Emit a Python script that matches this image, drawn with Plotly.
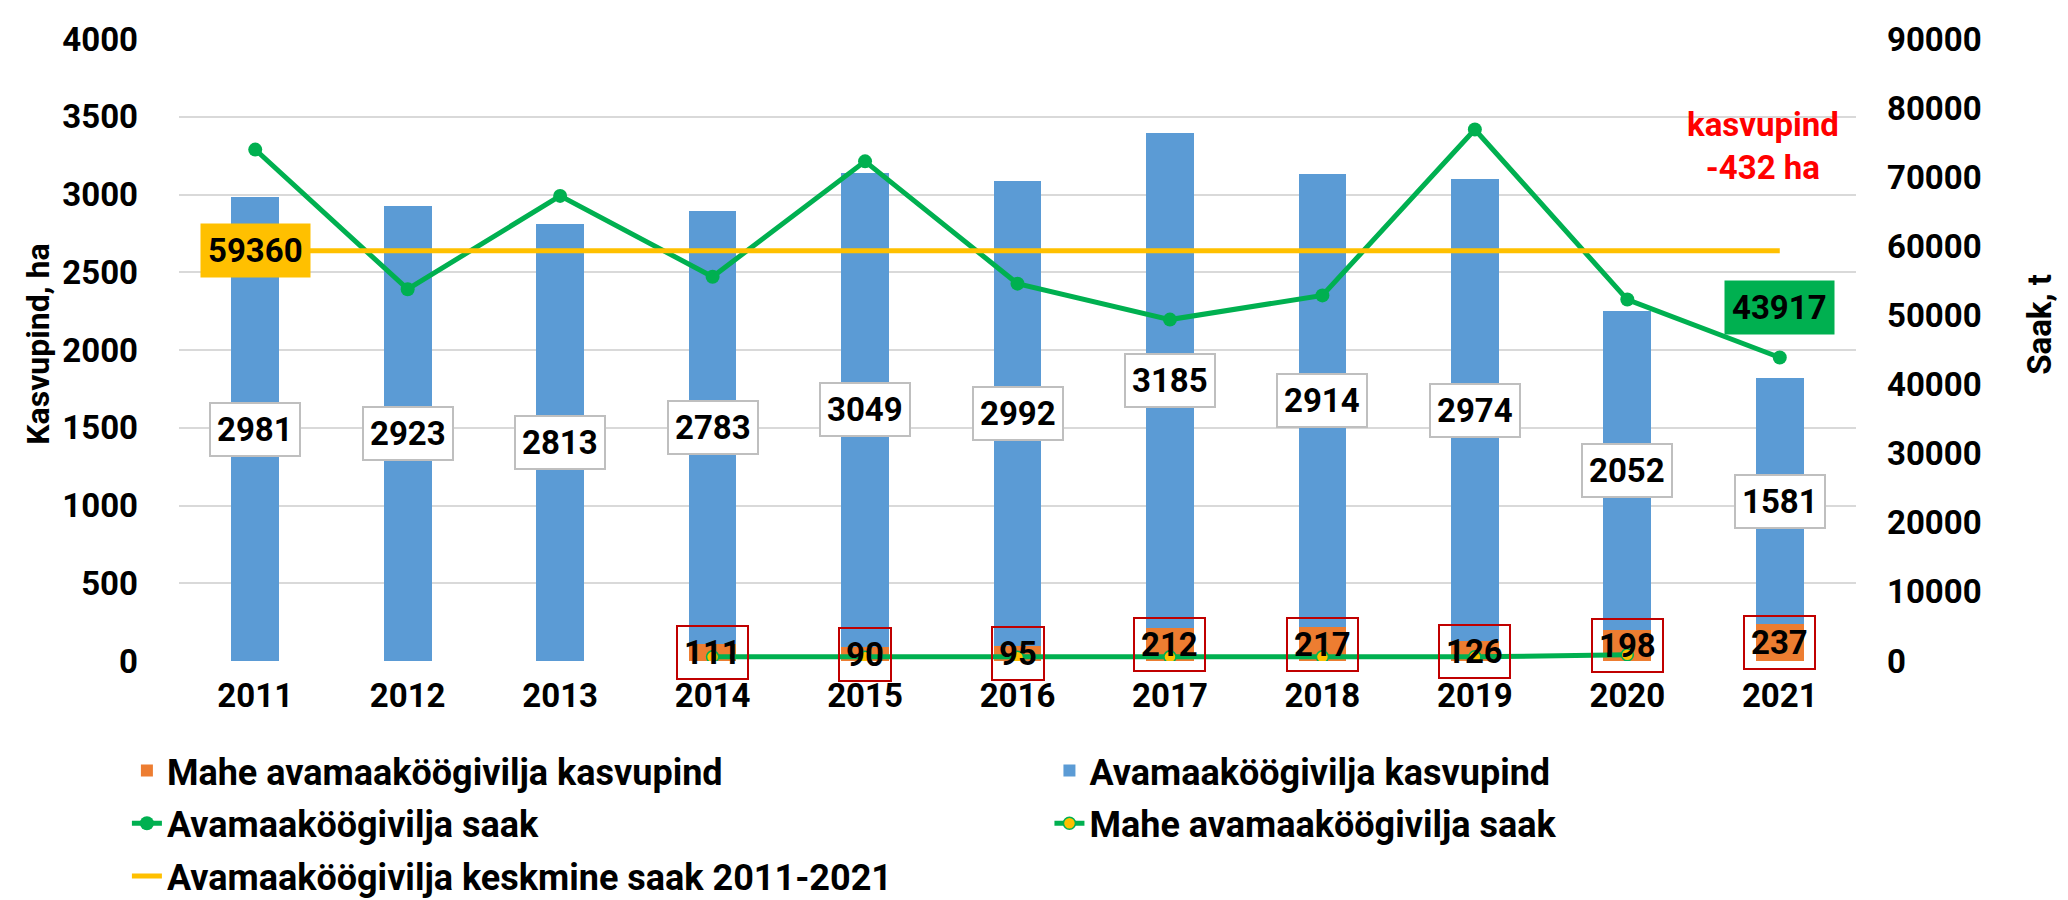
import plotly.graph_objects as go

years = ["2011", "2012", "2013", "2014", "2015", "2016", "2017", "2018", "2019", "2020", "2021"]
mahe_kasvupind = [0, 0, 0, 111, 90, 95, 212, 217, 126, 198, 237]
avamaa_kasvupind = [2981, 2923, 2813, 2783, 3049, 2992, 3185, 2914, 2974, 2052, 1581]
avamaa_saak = [74000, 53800, 67300, 55600, 72300, 54600, 49400, 52900, 76900, 52300, 43917]
mahe_years = ["2014", "2015", "2016", "2017", "2018", "2019", "2020"]
mahe_saak = [600, 550, 550, 600, 600, 600, 900]
keskmine_saak = 59360

FONT = "Roboto, sans-serif"
BLUE = "#5B9BD5"
ORANGE = "#ED7D31"
GREEN = "#00B050"
YELLOW = "#FFC000"
TS = 33  # text size


def f(size=TS, color="black"):
    return dict(family=FONT, size=size, color=color, weight="bold")


fig = go.Figure()
fig.add_trace(go.Bar(x=years, y=mahe_kasvupind, name="Mahe avamaaköögivilja kasvupind",
                     marker=dict(color=ORANGE, line=dict(width=0)),
                     legend="legend", legendgroup="a"))
fig.add_trace(go.Bar(x=years, y=avamaa_kasvupind, name="Avamaaköögivilja kasvupind",
                     marker=dict(color=BLUE, line=dict(width=0)),
                     legend="legend2", legendgroup="b"))
fig.add_trace(go.Scatter(x=years, y=avamaa_saak, name="Avamaaköögivilja saak", yaxis="y2",
                         mode="lines+markers", line=dict(color=GREEN, width=5),
                         marker=dict(size=14, color=GREEN),
                         legend="legend", legendgroup="c"))
fig.add_trace(go.Scatter(x=mahe_years, y=mahe_saak, name="Mahe avamaaköögivilja saak", yaxis="y2",
                         mode="lines+markers", line=dict(color=GREEN, width=5),
                         marker=dict(size=12, color=YELLOW, line=dict(color=GREEN, width=1.5)),
                         legend="legend2", legendgroup="d"))
fig.add_trace(go.Scatter(x=years, y=[keskmine_saak] * len(years),
                         name="Avamaaköögivilja keskmine saak 2011-2021", yaxis="y2",
                         mode="lines", line=dict(color=YELLOW, width=5),
                         legend="legend", legendgroup="e"))

ann = []
for i, (m, b) in enumerate(zip(mahe_kasvupind, avamaa_kasvupind)):
    ann.append(dict(x=i, y=m + b / 2, xref="x", yref="y", text=str(b), showarrow=False,
                    bgcolor="white", bordercolor="#BFBFBF", borderwidth=2, borderpad=6,
                    font=f()))
for i, m in enumerate(mahe_kasvupind):
    if m > 0:
        ann.append(dict(x=i, y=m / 2, xref="x", yref="y", text=str(m), showarrow=False,
                        bgcolor="rgba(0,0,0,0)", bordercolor="#C00000", borderwidth=2, borderpad=6,
                        font=f()))
ann.append(dict(x=0, y=keskmine_saak, xref="x", yref="y2", text=str(keskmine_saak),
                showarrow=False, bgcolor=YELLOW, borderpad=7, font=f()))
last = len(years) - 1
ann.append(dict(x=last, y=avamaa_saak[-1], xref="x", yref="y2", yshift=50,
                text=str(avamaa_saak[-1]), showarrow=False, bgcolor=GREEN, borderpad=7,
                font=f()))
diff = (mahe_kasvupind[-1] + avamaa_kasvupind[-1]) - (mahe_kasvupind[-2] + avamaa_kasvupind[-2])
ann.append(dict(x=last, y=3310, xref="x", yref="y", xshift=-17,
                text=f"kasvupind<br>{diff} ha", showarrow=False, align="center",
                font=f(color="#FF0000")))
# axis titles
ann.append(dict(x=-0.0841, y=0.51, xref="paper", yref="paper", text="Kasvupind, ha",
                xanchor="center", yanchor="middle",
                textangle=-90, showarrow=False, font=f(32)))
ann.append(dict(x=1.1097, y=0.542, xref="paper", yref="paper", text="Saak, t",
                xanchor="center", yanchor="middle",
                textangle=-90, showarrow=False, font=f(33)))

leg_common = dict(orientation="v", xref="container", yref="container",
                  xanchor="left", yanchor="top", traceorder="grouped", tracegroupgap=3,
                  font=f(36), bgcolor="rgba(0,0,0,0)")

fig.update_layout(
    width=2068, height=900,
    margin=dict(l=171, r=220, t=31, b=247, autoexpand=False),
    barmode="stack", bargap=0.687,
    plot_bgcolor="white", paper_bgcolor="white",
    font=f(),
    xaxis=dict(type="category", range=[-0.5, len(years) - 0.5], showline=False, ticks="",
               ticklabelstandoff=12, tickfont=f(), tickangle=0, automargin=False),
    yaxis=dict(range=[0, 4000], dtick=500, showgrid=True, gridcolor="#D9D9D9", gridwidth=2,
               zeroline=False, showline=False, ticklabelstandoff=40, tickfont=f(),
               automargin=False),
    yaxis2=dict(range=[0, 90000], dtick=10000, tickformat="d", overlaying="y", side="right",
                showgrid=False, zeroline=False, showline=False, ticklabelstandoff=30,
                tickfont=f(), automargin=False),
    legend=dict(x=0.0575, y=0.1860, **leg_common),
    legend2=dict(x=0.5036, y=0.1860, **leg_common),
    annotations=ann,
    showlegend=True,
)

fig.write_html("out.html")
